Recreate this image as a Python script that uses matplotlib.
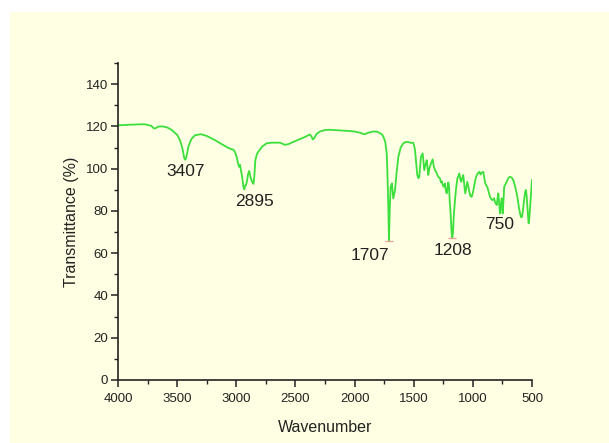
import matplotlib.pyplot as plt
from matplotlib.patches import Rectangle
from matplotlib.ticker import MultipleLocator

plt.rcParams['font.family'] = ['Liberation Sans', 'DejaVu Sans']

# FTIR spectrum (wavenumber, % transmittance)
wavenumber = [
    4000, 3900, 3800, 3772, 3720, 3695, 3680, 3660, 3620, 3580, 3546, 3500,
    3476, 3455, 3440, 3430, 3418, 3405, 3380, 3349, 3300, 3250, 3180, 3120,
    3067, 3040, 3025, 3010, 2997, 2985, 2975, 2968, 2960, 2950, 2940, 2932,
    2925, 2918, 2910, 2900, 2890, 2880, 2867, 2855, 2848, 2839, 2825, 2814,
    2780, 2743, 2700, 2630, 2590, 2560, 2520, 2461, 2420, 2377, 2362, 2354,
    2340, 2320, 2292, 2250, 2208, 2150, 2067, 2000, 1954, 1930, 1912, 1890,
    1842, 1810, 1785, 1765, 1751, 1740, 1728, 1723, 1716, 1709, 1703, 1695,
    1684, 1673, 1658, 1645, 1630, 1610, 1588, 1570, 1546, 1525, 1504, 1495,
    1489, 1480, 1470, 1460, 1453, 1446, 1439, 1424, 1418, 1411, 1400, 1390,
    1383, 1377, 1368, 1360, 1354, 1340, 1330, 1320, 1310, 1300, 1290, 1278,
    1270, 1262, 1253, 1244, 1236, 1228, 1221, 1216, 1208, 1202, 1195, 1188,
    1180, 1174, 1168, 1160, 1151, 1143, 1131, 1122, 1114, 1106, 1098, 1090,
    1081, 1072, 1064, 1056, 1047, 1038, 1030, 1020, 1010, 1000, 990, 978,
    967, 955, 945, 935, 928, 912, 904, 895, 886, 878, 866, 855,
    843, 832, 820, 812, 805, 798, 791, 785, 778, 771, 763, 756,
    748, 741, 735, 725, 714, 700, 686, 672, 658, 640, 624, 610,
    601, 592, 584, 575, 567, 558, 551, 545, 540, 533, 528, 522,
    517, 511, 506, 500,
]
transmittance = [
    120.5, 120.8, 121.0, 121.0, 120.3, 119.0, 119.2, 119.9, 120.0, 119.4, 118.3, 116.0,
    113.5, 109.5, 105.0, 104.2, 106.5, 110.4, 114.0, 115.8, 116.3, 115.5, 113.5, 111.5,
    109.8, 109.2, 109.0, 107.8, 105.6, 102.5, 100.9, 101.8, 99.0, 96.0, 91.5, 90.2,
    92.0, 92.2, 94.0, 97.5, 98.9, 96.0, 93.9, 92.8, 96.0, 104.0, 107.0, 108.0,
    110.5, 112.0, 112.3, 112.3, 111.3, 111.6, 112.6, 114.0, 115.0, 116.2, 115.0, 113.8,
    114.5, 116.5, 117.6, 118.3, 118.4, 118.2, 117.9, 117.6, 117.0, 116.5, 116.3, 116.9,
    117.6, 117.5, 116.8, 116.0, 114.4, 112.5, 107.0, 99.3, 85.0, 66.0, 80.0, 91.4,
    93.0, 85.9, 89.9, 98.0, 105.6, 110.0, 112.0, 112.6, 112.6, 112.2, 112.3, 110.5,
    108.8, 103.0, 97.0, 95.5, 96.2, 101.0, 105.6, 107.2, 103.5, 99.3, 102.0, 104.0,
    100.5, 97.0, 100.0, 101.5, 102.5, 104.4, 101.0, 99.3, 98.5, 97.0, 96.0, 95.4,
    93.5, 94.0, 92.0, 91.4, 93.0, 89.5, 88.3, 89.9, 93.5, 92.0, 84.0, 78.8,
    70.0, 67.0, 70.0, 78.8, 85.1, 90.0, 95.4, 96.5, 97.7, 95.0, 93.8, 95.5,
    97.0, 92.0, 88.3, 91.0, 93.8, 91.5, 89.1, 87.0, 86.7, 88.5, 91.4, 95.0,
    97.0, 98.0, 98.5, 97.2, 98.0, 98.5, 96.0, 93.0, 92.0, 91.4, 89.0, 86.7,
    85.5, 85.1, 86.0, 84.0, 83.5, 82.8, 86.0, 88.3, 84.0, 78.8, 83.0, 86.0,
    78.8, 85.0, 91.4, 92.5, 93.8, 95.5, 96.2, 95.8, 94.6, 91.0, 86.7, 81.5,
    78.8, 77.0, 77.3, 81.0, 85.1, 89.0, 89.9, 87.0, 82.8, 77.0, 74.1, 77.0,
    81.2, 86.0, 89.9, 94.6,
]

# peak labels and where their text sits
peak_labels = ['3407', '2895', '1707', '1208', '750']
label_x = [3430, 2850, 1870, 1168, 771]
label_y = [98.5, 84.5, 59.0, 61.5, 73.5]

# small marks drawn at the two deepest minima
mark_x = [1709, 1174]
mark_y = [66.0, 67.0]

fig = plt.figure(figsize=(6.09, 4.43), dpi=100, facecolor='white')
fig.patches.append(Rectangle((10 / 609, 0), 1, (443 - 12) / 443,
                             transform=fig.transFigure, facecolor='#FFFFE3',
                             edgecolor='none', zorder=-10))

ax = fig.add_axes([118 / 609, 1 - 380 / 443, 414 / 609, 317 / 443])
ax.set_facecolor('none')

ax.plot(wavenumber, transmittance, color='#3CDF3C', linewidth=1.3)
ax.plot(mark_x, mark_y, linestyle='none', marker='_', markersize=6,
        color='#E8A0A0', markeredgewidth=1)

for text, x, y in zip(peak_labels, label_x, label_y):
    ax.text(x, y, text, ha='center', va='center', fontsize=12.5, color='#222222')

ax.set_xlim(4000, 500)
ax.set_ylim(0, 150)
ax.xaxis.set_major_locator(MultipleLocator(500))
ax.xaxis.set_minor_locator(MultipleLocator(250))
ax.yaxis.set_major_locator(MultipleLocator(20))
ax.yaxis.set_minor_locator(MultipleLocator(10))
ax.set_yticks(range(0, 141, 20))

for side in ['top', 'right']:
    ax.spines[side].set_visible(False)
for side in ['left', 'bottom']:
    ax.spines[side].set_linewidth(1.2)
    ax.spines[side].set_color('#222222')

ax.tick_params(which='major', direction='out', length=5, width=1.1,
               color='#222222', labelsize=9.5, labelcolor='#222222')
ax.tick_params(axis='x', which='major', pad=4)
ax.tick_params(axis='y', which='major', pad=2)
ax.tick_params(which='minor', direction='out', length=3, width=1.0,
               color='#222222')

ax.set_xlabel('Wavenumber', fontsize=11.5, color='#222222', labelpad=11)
ax.set_ylabel('Transmittance (%)', fontsize=11.5, color='#222222', labelpad=5)

fig.savefig('out.png', dpi=100, facecolor=fig.get_facecolor())
